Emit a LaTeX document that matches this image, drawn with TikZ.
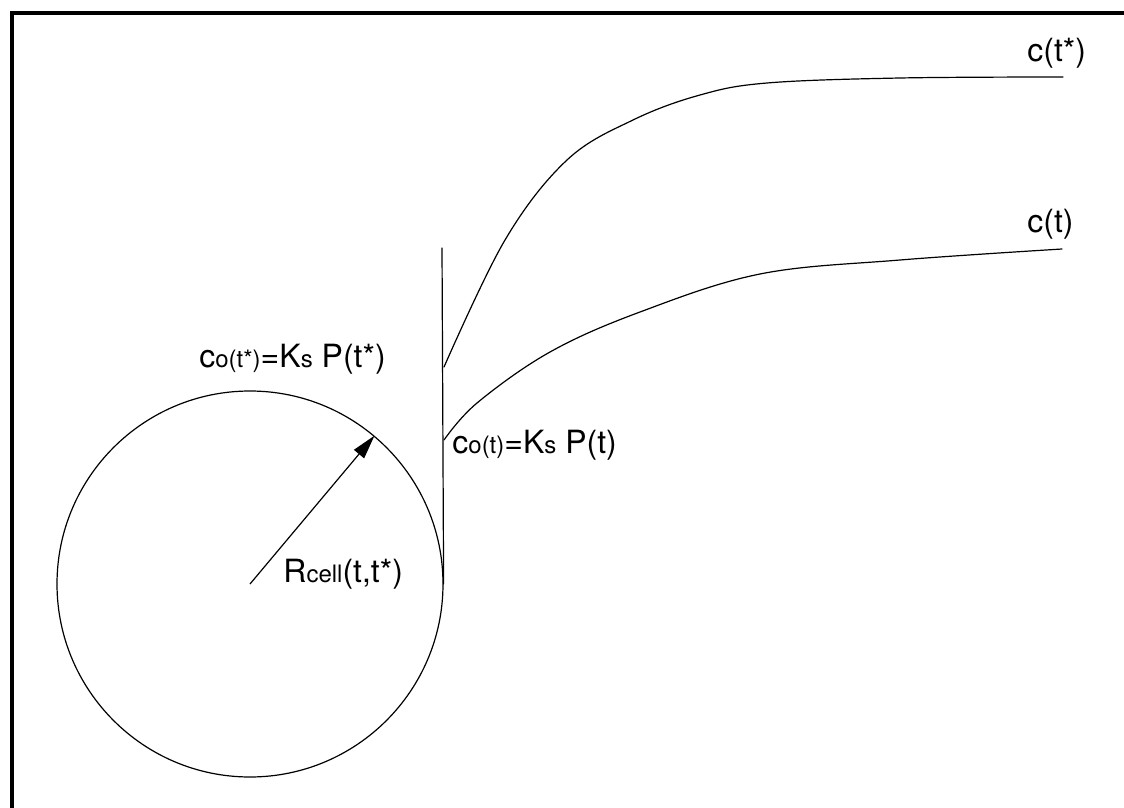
\documentclass[tikz,border=0pt]{standalone}
\usepackage{fontspec}
\setmainfont{TeX Gyre Heros}
\usetikzlibrary{arrows.meta}
\tikzset{
	thin line/.style={line width=0.6pt, line cap=round},
	lbl/.style={anchor=base west, inner sep=0pt, font=\fontsize{16}{19}\selectfont},
	radius arrow/.style={-{Triangle[length=12pt,width=6.5pt]}, line width=0.6pt},
}
\newcommand{\sm}[1]{{\fontsize{12}{14}\selectfont #1}}

\begin{document}
\begin{tikzpicture}[x=0.5pt,y=-0.5pt]
	\useasboundingbox (0,0) rectangle (1124,808);
	% frame
	\draw[line width=1.8pt] (12,808) -- (12,13) -- (1124,13);
	% cell and its radius
	\node[circle, draw, thin line, minimum size=193pt, inner sep=0pt] (cell) at (250,584) {};
	\draw[radius arrow] (cell.center) -- (cell.50);
	% wall
	\coordinate (walltop) at (442,248);
	\draw[thin line] (walltop) -- (cell.east);
	% concentration profiles
	\draw[thin line] plot[smooth, tension=0.6] coordinates {(444,367) (505,240) (567,160) (633,120) (700,95) (767,83) (900,78) (1063,77)};
	\draw[thin line] plot[smooth, tension=0.6] coordinates {(444,440) (477,403) (550,352) (640,312) (760,274) (900,260) (1062,249)};
	% labels
	\node[lbl] (cstar) at (1027,62) {c(t*)};
	\node[lbl] (ct) at (1027,232) {c(t)};
	\node[lbl] (costar) at (199,367) {c\sm{o(t*)}=K\sm{s} P(t*)};
	\node[lbl] (co) at (452,453) {c\sm{o(t)}=K\sm{s} P(t)};
	\node[lbl] (rcell) at (283,582) {R\sm{cell}(t,t*)};
\end{tikzpicture}
\end{document}
